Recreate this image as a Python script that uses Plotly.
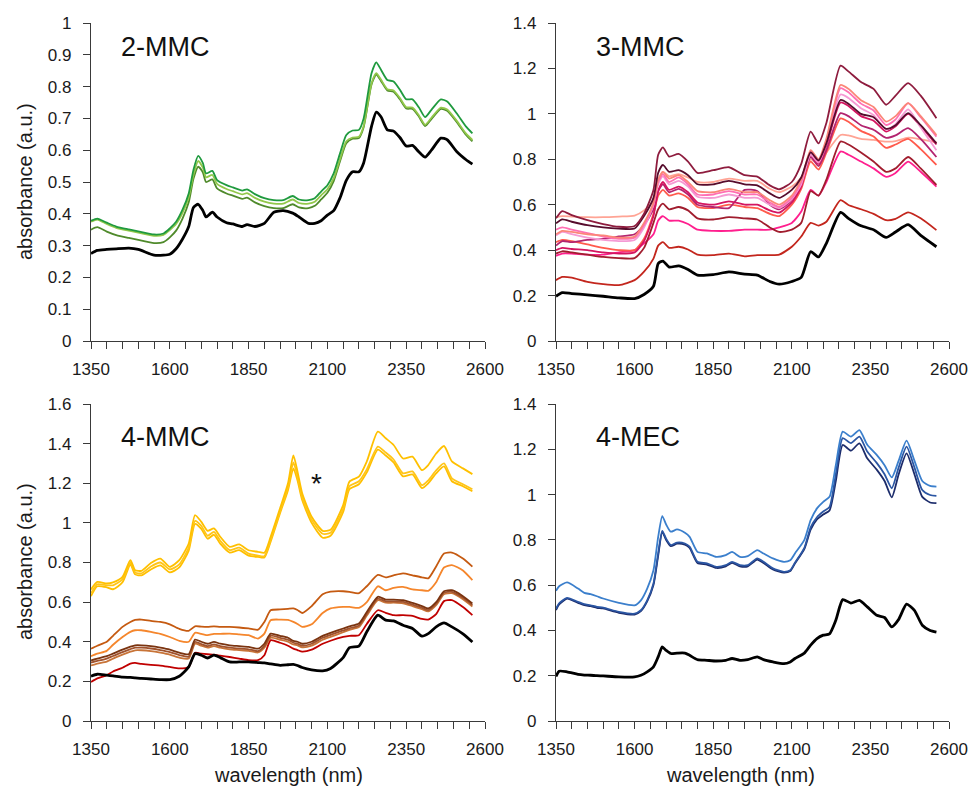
import plotly.graph_objects as go
from plotly.subplots import make_subplots

# ---------------- 2-MMC ----------------
WL_2MMC = [1350,1370,1400,1430,1470,1500,1550,1580,1600,1620,1640,1660,1675,1690,1705,1715,1735,1750,1780,1800,
           1830,1845,1870,1900,1930,1960,1990,2010,2040,2060,2080,2100,2120,2140,2160,2180,2200,2215,2240,2255,
           2270,2290,2310,2330,2350,2370,2390,2410,2430,2460,2480,2510,2540,2560]
MMC2_ref = [.275,.285,.288,.29,.292,.288,.27,.27,.273,.29,.32,.36,.42,.43,.41,.39,.405,.39,.372,.368,
            .36,.366,.36,.37,.405,.41,.402,.39,.37,.37,.378,.396,.41,.45,.505,.532,.532,.56,.675,.72,
            .705,.664,.66,.64,.613,.615,.595,.578,.60,.638,.633,.596,.57,.556]
MMC2_green = [.378,.385,.372,.36,.351,.345,.335,.338,.354,.375,.412,.464,.538,.582,.559,.527,.535,.506,.49,.483,
              .473,.477,.462,.449,.443,.443,.456,.445,.443,.449,.47,.49,.527,.59,.648,.662,.664,.70,.842,.876,
              .853,.821,.816,.79,.76,.76,.735,.704,.727,.76,.753,.716,.674,.653]
MMC2_light = [.375,.382,.368,.356,.347,.341,.331,.334,.349,.368,.402,.452,.522,.566,.545,.515,.522,.494,.478,.471,
              .461,.465,.45,.438,.432,.432,.445,.434,.432,.438,.458,.477,.512,.572,.628,.64,.642,.676,.81,.842,
              .822,.792,.788,.764,.735,.734,.71,.68,.702,.734,.728,.693,.652,.632]
MMC2_olive = [.35,.358,.344,.333,.324,.318,.308,.311,.326,.347,.384,.436,.51,.548,.53,.50,.508,.48,.464,.457,
              .447,.451,.436,.424,.418,.418,.43,.42,.418,.425,.445,.466,.503,.565,.622,.636,.638,.672,.807,.838,
              .818,.788,.784,.76,.731,.73,.706,.676,.698,.73,.724,.689,.648,.628]

# ---------------- 3-MMC ----------------
WL_3MMC = [1350,1370,1400,1450,1500,1550,1600,1630,1660,1675,1690,1710,1740,1770,1800,1850,1900,1950,1990,2030,
           2060,2100,2130,2160,2185,2210,2255,2280,2320,2360,2400,2430,2470,2510,2560]
MMC3_ref = [.197,.213,.209,.203,.197,.19,.187,.205,.241,.341,.352,.325,.331,.315,.29,.292,.304,.294,.29,.262,
            .25,.262,.28,.393,.37,.43,.566,.54,.507,.49,.456,.48,.512,.465,.415]
MMC3_red = [.268,.282,.279,.26,.25,.246,.268,.305,.363,.42,.435,.41,.415,.403,.38,.378,.385,.373,.378,.378,
            .38,.415,.46,.52,.508,.525,.62,.599,.58,.56,.532,.538,.566,.54,.488]
MMC3_deeppink = [.375,.385,.385,.38,.38,.39,.40,.43,.47,.53,.55,.53,.53,.515,.49,.485,.485,.49,.49,.49,
                 .50,.52,.57,.665,.64,.70,.834,.82,.79,.76,.723,.74,.79,.745,.68]
MMC3_darkred = [.385,.395,.39,.38,.37,.365,.365,.41,.52,.58,.605,.58,.59,.575,.54,.535,.545,.54,.535,.50,
                .48,.49,.52,.66,.64,.71,.878,.865,.83,.79,.745,.76,.81,.76,.687]
MMC3_lightsalmon = [.545,.55,.548,.545,.545,.548,.552,.575,.62,.70,.745,.725,.735,.72,.70,.70,.715,.705,.705,.67,
                    .655,.68,.72,.80,.78,.83,.907,.905,.89,.885,.878,.88,.895,.888,.875]
MMC3_tomato = [.435,.445,.44,.425,.41,.40,.40,.45,.56,.64,.665,.64,.65,.63,.59,.585,.60,.59,.585,.56,
               .55,.60,.67,.79,.755,.83,.98,.965,.925,.90,.85,.865,.89,.845,.775]
MMC3_magenta = [.42,.44,.435,.445,.45,.46,.47,.51,.58,.66,.69,.655,.67,.645,.60,.59,.585,.665,.66,.60,
                .58,.62,.69,.81,.77,.84,1.003,.99,.95,.93,.894,.905,.937,.89,.81]
MMC3_crimson = [.40,.41,.405,.40,.39,.385,.39,.44,.55,.66,.70,.665,.68,.655,.61,.60,.615,.60,.60,.575,
                .565,.61,.68,.82,.78,.86,1.05,1.035,.99,.97,.922,.945,1.0,.945,.865]
MMC3_violet = [.465,.48,.47,.455,.445,.44,.445,.50,.60,.69,.725,.69,.705,.68,.635,.63,.645,.63,.63,.60,
               .585,.625,.69,.82,.785,.87,1.085,1.07,1.025,.995,.93,.955,1.02,.94,.84]
MMC3_pink = [.49,.50,.49,.475,.46,.45,.455,.51,.60,.70,.735,.70,.72,.69,.645,.645,.66,.645,.645,.61,
             .59,.63,.70,.835,.79,.88,1.113,1.095,1.045,1.015,.951,.975,1.047,.985,.90]
MMC3_coral = [.47,.485,.48,.47,.465,.455,.46,.52,.61,.71,.745,.715,.73,.70,.66,.655,.67,.655,.655,.62,
              .60,.64,.71,.84,.80,.89,1.127,1.11,1.06,1.03,.966,.99,1.047,.99,.907]
MMC3_maroonblack = [.518,.535,.525,.51,.50,.495,.495,.55,.63,.74,.775,.745,.752,.73,.69,.69,.705,.69,.685,.65,
                    .63,.665,.72,.83,.795,.87,1.061,1.045,1.0,.985,.934,.95,1.003,.95,.87]
MMC3_maroon = [.54,.572,.554,.532,.515,.503,.506,.56,.665,.82,.852,.812,.824,.79,.74,.752,.765,.73,.724,.685,
               .668,.70,.78,.922,.87,.96,1.212,1.187,1.14,1.11,1.04,1.08,1.135,1.08,.981]

# ---------------- 4-MMC ----------------
WL_4MMC = [1350,1370,1400,1420,1450,1475,1490,1510,1540,1570,1600,1630,1660,1680,1700,1720,1740,1760,1790,1820,
           1850,1880,1900,1920,1950,1975,1992,2005,2020,2050,2085,2110,2150,2170,2200,2225,2260,2285,2310,2340,
           2370,2400,2420,2445,2470,2495,2530,2560]
MMC4_ref = [.226,.236,.231,.228,.222,.22,.218,.215,.212,.209,.209,.226,.273,.34,.332,.318,.332,.32,.298,.298,
            .298,.295,.293,.288,.281,.284,.286,.28,.27,.258,.253,.265,.32,.37,.378,.45,.534,.509,.505,.483,
            .467,.428,.441,.475,.495,.475,.44,.399]
MMC4_red = [.197,.215,.231,.25,.269,.29,.293,.288,.283,.28,.273,.266,.273,.344,.34,.337,.335,.33,.323,.315,
            .307,.307,.332,.408,.395,.38,.365,.358,.35,.36,.39,.405,.424,.43,.433,.49,.559,.546,.534,.534,
            .53,.515,.512,.54,.605,.61,.575,.534]
MMC4_brown3 = [.28,.29,.30,.315,.335,.35,.357,.357,.353,.345,.335,.32,.315,.39,.38,.37,.378,.37,.362,.358,
               .354,.346,.37,.42,.41,.40,.386,.382,.372,.38,.41,.425,.448,.46,.474,.532,.61,.597,.597,.594,
               .58,.564,.553,.585,.64,.645,.615,.578]
MMC4_brown2 = [.295,.303,.315,.328,.348,.363,.37,.37,.366,.358,.348,.333,.325,.399,.388,.378,.387,.378,.37,.366,
               .362,.353,.378,.43,.42,.41,.395,.39,.38,.39,.42,.435,.457,.468,.482,.54,.618,.604,.604,.601,
               .587,.571,.56,.592,.647,.652,.622,.585]
MMC4_brown1 = [.306,.315,.327,.34,.36,.375,.382,.382,.378,.37,.36,.345,.337,.411,.40,.39,.399,.39,.382,.378,
               .374,.365,.39,.441,.43,.42,.404,.40,.39,.40,.43,.445,.467,.478,.492,.55,.627,.613,.613,.61,
               .596,.58,.568,.60,.655,.66,.63,.593]
MMC4_orange = [.327,.34,.354,.385,.424,.45,.458,.458,.45,.44,.424,.405,.40,.445,.44,.433,.44,.44,.441,.437,
               .433,.416,.441,.509,.512,.51,.50,.49,.475,.488,.545,.568,.576,.576,.571,.60,.68,.66,.672,.677,
               .664,.66,.657,.70,.775,.787,.76,.711]
MMC4_darkorange = [.365,.38,.40,.43,.475,.50,.51,.512,.505,.50,.488,.465,.455,.478,.476,.475,.478,.475,.475,.472,
                   .467,.461,.50,.559,.563,.566,.568,.56,.545,.58,.64,.653,.655,.652,.645,.68,.737,.725,.735,.745,
                   .735,.725,.72,.78,.845,.85,.82,.779]
MMC4_yellow3 = [.63,.68,.675,.665,.70,.79,.74,.735,.765,.785,.75,.775,.86,.995,.97,.92,.94,.895,.85,.862,
                .835,.828,.825,.905,1.05,1.165,1.275,1.215,1.115,1.0,.925,.935,1.055,1.17,1.195,1.255,1.37,1.34,1.305,1.235,
                1.245,1.175,1.2,1.25,1.285,1.21,1.185,1.16]
MMC4_yellow2 = [.645,.69,.685,.685,.715,.80,.75,.745,.78,.80,.765,.79,.875,1.01,.985,.935,.955,.91,.862,.875,
                .845,.835,.832,.915,1.06,1.18,1.305,1.235,1.13,1.015,.945,.95,1.07,1.185,1.21,1.27,1.385,1.355,1.32,1.25,
                1.26,1.19,1.215,1.265,1.30,1.225,1.195,1.17]
MMC4_yellow1 = [.664,.702,.694,.70,.728,.812,.761,.758,.798,.82,.778,.812,.896,1.039,1.005,.96,.972,.93,.879,.891,
                .862,.854,.849,.93,1.075,1.2,1.34,1.26,1.15,1.031,.96,.965,1.09,1.208,1.233,1.31,1.46,1.427,1.393,1.325,
                1.334,1.266,1.292,1.35,1.388,1.31,1.275,1.246]

# ---------------- 4-MEC ----------------
WL_4MEC = [1350,1360,1385,1420,1440,1460,1480,1500,1550,1600,1620,1640,1660,1675,1688,1700,1715,1735,1760,1775,
           1800,1830,1860,1890,1910,1935,1960,1990,2010,2040,2075,2095,2110,2140,2160,2180,2200,2220,2240,2262,
           2288,2315,2340,2370,2395,2418,2440,2465,2490,2515,2540,2560]
MEC_ref = [.197,.22,.217,.206,.203,.202,.2,.199,.195,.195,.202,.217,.239,.283,.327,.312,.298,.30,.30,.29,
           .271,.268,.265,.268,.276,.268,.271,.283,.271,.261,.253,.261,.276,.30,.335,.364,.379,.385,.445,.536,
           .521,.533,.504,.467,.457,.416,.449,.516,.489,.423,.40,.393]
MEC_navy = [.49,.515,.54,.522,.512,.507,.5,.497,.478,.47,.485,.528,.60,.73,.835,.80,.772,.783,.779,.765,
            .698,.691,.676,.683,.698,.683,.683,.713,.698,.669,.655,.662,.695,.76,.845,.89,.912,.93,1.06,1.219,
            1.194,1.226,1.16,1.11,1.06,.988,1.09,1.182,1.09,.99,.965,.962]
MEC_mid = [.495,.52,.544,.526,.516,.511,.504,.501,.482,.474,.489,.533,.607,.74,.84,.806,.777,.788,.784,.77,
           .703,.696,.681,.688,.703,.688,.688,.718,.703,.674,.659,.666,.699,.765,.855,.90,.925,.945,1.09,1.249,
           1.227,1.256,1.19,1.14,1.09,1.028,1.12,1.212,1.12,1.02,.998,.994]
MEC_light = [.575,.595,.612,.585,.566,.56,.551,.541,.522,.511,.533,.585,.666,.813,.905,.869,.836,.846,.831,.813,
             .747,.74,.725,.733,.747,.725,.728,.755,.74,.718,.703,.71,.74,.80,.887,.939,.968,.99,1.13,1.278,
             1.256,1.285,1.22,1.175,1.13,1.076,1.15,1.238,1.15,1.06,1.038,1.035]

X_TICKS = [1350, 1600, 1850, 2100, 2350, 2600]
PANEL_LABELS = ["2-MMC", "3-MMC", "4-MMC", "4-MEC"]

panels = [
    (1, 1, WL_2MMC, [(MMC2_olive, "#4f8a2b"), (MMC2_light, "#92c84a"), (MMC2_green, "#1f9a3e"), (MMC2_ref, "#000000")]),
    (1, 2, WL_3MMC, [(MMC3_red, "#c3261d"), (MMC3_deeppink, "#ff1f8e"), (MMC3_darkred, "#a11d2e"),
                     (MMC3_lightsalmon, "#ffa495"), (MMC3_tomato, "#ff5a4c"), (MMC3_magenta, "#b3246f"),
                     (MMC3_crimson, "#d41560"), (MMC3_violet, "#f59ad4"), (MMC3_pink, "#ff6fb3"),
                     (MMC3_coral, "#fb8678"), (MMC3_maroonblack, "#560c2c"), (MMC3_maroon, "#8e1c3e"),
                     (MMC3_ref, "#000000")]),
    (2, 1, WL_4MMC, [(MMC4_red, "#c00000"), (MMC4_brown3, "#c87438"), (MMC4_brown2, "#a0522d"),
                     (MMC4_brown1, "#7b3410"), (MMC4_orange, "#f5862c"), (MMC4_darkorange, "#c55a11"),
                     (MMC4_yellow3, "#ffbf00"), (MMC4_yellow2, "#ffc519"), (MMC4_yellow1, "#ffc000"),
                     (MMC4_ref, "#000000")]),
    (2, 2, WL_4MEC, [(MEC_navy, "#1c2c6b"), (MEC_mid, "#2b56a3"), (MEC_light, "#3b7fcc"), (MEC_ref, "#000000")]),
]

fig = make_subplots(rows=2, cols=2)
for r, c, wl, series in panels:
    for ys, col in series:
        fig.add_trace(go.Scatter(
            x=wl, y=ys, mode="lines",
            line=dict(color=col, width=2.8 if col == "#000000" else 1.8, shape="spline", smoothing=0.6),
            showlegend=False, hoverinfo="skip"), row=r, col=c)

W, H = 971, 789


def px_x(p):
    return p / W


def px_y(p):
    return 1 - p / H


xd_left = [px_x(91), px_x(485)]
xd_right = [px_x(556), px_x(949)]
yd_top = [px_y(341), px_y(23)]
yd_bot = [px_y(721), px_y(404)]

font_family = "Liberation Sans, Arial, sans-serif"
axis_common = dict(showline=True, linecolor="#3a3a3a", linewidth=1.4, showgrid=False, zeroline=False,
                   ticks="outside", ticklen=7, tickwidth=1.4, tickcolor="#3a3a3a", automargin=False,
                   tickfont=dict(family=font_family, size=17, color="#1a1a1a"))

yranges = {(1, 1): (1.0, 0.1), (1, 2): (1.4, 0.2), (2, 1): (1.6, 0.2), (2, 2): (1.4, 0.2)}
for (r, c), (ymax, dt) in yranges.items():
    fig.update_xaxes(row=r, col=c, range=[1350, 2600], tickvals=X_TICKS, ticklabelstandoff=5,
                     domain=xd_left if c == 1 else xd_right,
                     minor=dict(ticks="outside", ticklen=7, tickwidth=1.4, tickcolor="#3a3a3a", dtick=50, tick0=1350),
                     **axis_common)
    fig.update_yaxes(row=r, col=c, range=[0, ymax], dtick=dt, tick0=0, ticklabelstandoff=8,
                     domain=yd_top if r == 1 else yd_bot, **axis_common)

ann = []
label_pos = [(119, 47), (594, 47), (119, 437), (594, 437)]
for txt, (px, py) in zip(PANEL_LABELS, label_pos):
    ann.append(dict(text=txt, x=px_x(px), y=px_y(py), xref="paper", yref="paper", xanchor="left",
                    yanchor="middle", showarrow=False, font=dict(family=font_family, size=27, color="#111")))
ann.append(dict(text="*", x=px_x(316), y=px_y(484), xref="paper", yref="paper", showarrow=False,
                xanchor="center", yanchor="middle", font=dict(family=font_family, size=28, color="#111")))
for py in (182, 562):
    ann.append(dict(text="absorbance (a.u.)", x=px_x(25), y=px_y(py), xref="paper", yref="paper",
                    xanchor="center", yanchor="middle",
                    textangle=-90, showarrow=False, font=dict(family=font_family, size=20, color="#1a1a1a")))
for px in (288, 740):
    ann.append(dict(text="wavelength (nm)", x=px_x(px), y=px_y(775), xref="paper", yref="paper",
                    xanchor="center", yanchor="middle",
                    showarrow=False, font=dict(family=font_family, size=20, color="#1a1a1a")))

fig.update_layout(width=W, height=H, margin=dict(l=0, r=0, t=0, b=0),
                  paper_bgcolor="white", plot_bgcolor="white", annotations=ann)
# remove the page's default body margin so the figure fills the window exactly
fig.write_html("out.html", config={"displayModeBar": False},
               post_script="document.body.style.margin='0';document.body.style.overflow='hidden';")
